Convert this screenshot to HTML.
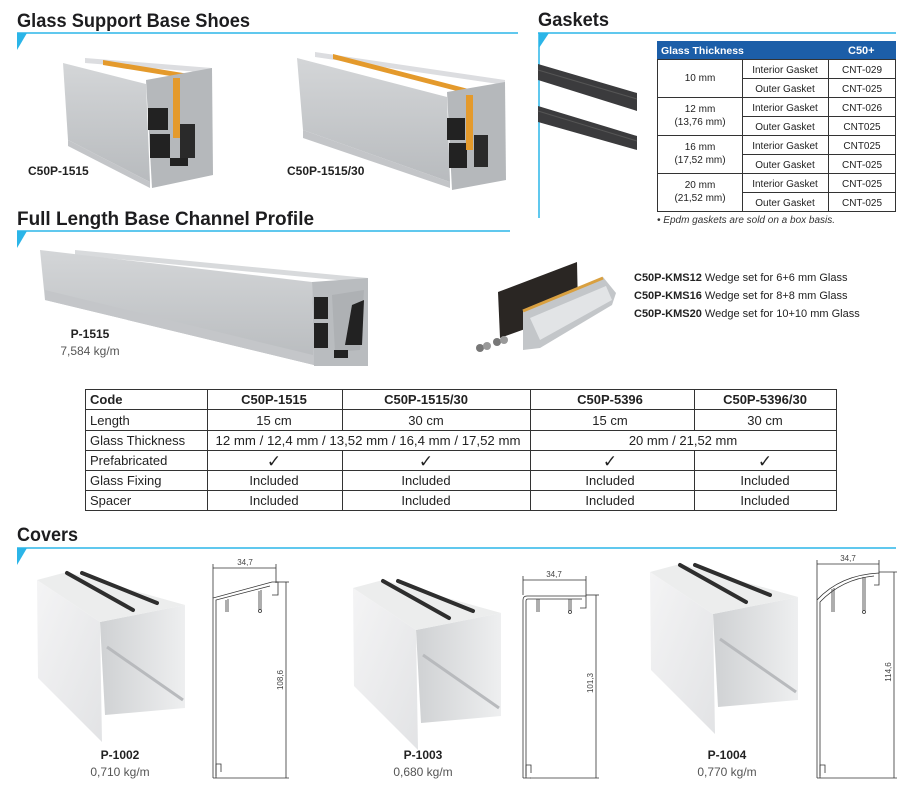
<!DOCTYPE html>
<html><head><meta charset="utf-8"><style>
html,body{margin:0;padding:0;background:#fff;}
svg{display:block;}
text{font-family:"Liberation Sans",sans-serif;}
</style></head><body>
<svg width="917" height="785" viewBox="0 0 917 785" xmlns="http://www.w3.org/2000/svg">
<defs>
<linearGradient id="alu" x1="0" y1="0" x2="0" y2="1"><stop offset="0" stop-color="#d4d6d8"/><stop offset="1" stop-color="#b8bbbe"/></linearGradient>
<linearGradient id="inner" x1="0" y1="0" x2="1" y2="0"><stop offset="0" stop-color="#cfd1d3"/><stop offset="1" stop-color="#eeeff0"/></linearGradient>
<linearGradient id="cov" x1="0" y1="0" x2="1" y2="1"><stop offset="0" stop-color="#f4f4f5"/><stop offset="1" stop-color="#e2e3e5"/></linearGradient>
</defs>

<!-- Section headers -->
<g fill="#1d1d1f" font-weight="bold" font-size="19">
<text x="17" y="27" textLength="233" lengthAdjust="spacingAndGlyphs">Glass Support Base Shoes</text>
<text x="538" y="26" textLength="71" lengthAdjust="spacingAndGlyphs">Gaskets</text>
<text x="17" y="225" textLength="297" lengthAdjust="spacingAndGlyphs">Full Length Base Channel Profile</text>
<text x="17" y="541" textLength="61" lengthAdjust="spacingAndGlyphs">Covers</text>
</g>
<g stroke="#2bb5e8" stroke-width="1.5">
<line x1="17" y1="33" x2="518" y2="33"/>
<line x1="538" y1="33" x2="896" y2="33"/>
<line x1="17" y1="231" x2="510" y2="231"/>
<line x1="17" y1="548" x2="896" y2="548"/>
<line x1="539" y1="33" x2="539" y2="218"/>
</g>
<g fill="#2bb5e8">
<polygon points="17,33 27,33 17,50"/>
<polygon points="539,33 549,33 539,48"/>
<polygon points="17,231 27,231 17,248"/>
<polygon points="17,548 27,548 17,565"/>
</g>

<!-- Shoe 1 -->
<g>
<polygon points="85,58 212,68 212,73 85,63" fill="#dcdde0"/>
<polygon points="103,60 195,75 195,80 103,65" fill="#e49a2c"/>
<polygon points="63,63 146,84 150,182 68,140" fill="url(#alu)"/>
<polygon points="68,140 150,182 150,188 68,146" fill="#c3c5c8"/>
<polygon points="146,80 212,68 213,175 152,188" fill="#b5b8bb"/>
<rect x="148" y="108" width="20" height="22" fill="#222"/>
<rect x="150" y="134" width="20" height="24" fill="#222"/>
<rect x="180" y="124" width="15" height="34" fill="#2a2a2a"/>
<rect x="173" y="78" width="7" height="60" fill="#e49a2c"/>
<rect x="170" y="158" width="18" height="8" fill="#222"/>
</g>
<text x="28" y="175" font-size="12" font-weight="bold" fill="#222">C50P-1515</text>
<!-- Shoe 2 -->
<g>
<polygon points="315,52 505,80 505,85 315,57" fill="#dcdde0"/>
<polygon points="333,54 480,92 480,97 333,59" fill="#e49a2c"/>
<polygon points="297,58 447,97 450,182 303,130" fill="url(#alu)"/>
<polygon points="303,130 450,182 450,188 303,138" fill="#c3c5c8"/>
<polygon points="447,92 505,82 506,180 452,190" fill="#b5b8bb"/>
<rect x="447" y="118" width="18" height="22" fill="#222"/>
<rect x="449" y="143" width="18" height="25" fill="#222"/>
<rect x="474" y="135" width="14" height="32" fill="#2a2a2a"/>
<rect x="466" y="95" width="7" height="55" fill="#e49a2c"/>
</g>
<text x="287" y="175" font-size="12" font-weight="bold" fill="#222">C50P-1515/30</text>

<!-- Gaskets -->
<polygon points="538,64 637,93 637,111 538,80" fill="#3b3b3d"/>
<line x1="538" y1="70" x2="637" y2="99" stroke="#555" stroke-width="1"/>
<polygon points="538,106 637,136 637,150 538,122" fill="#3b3b3d"/>
<line x1="538" y1="111" x2="637" y2="141" stroke="#555" stroke-width="1"/>

<!-- Gasket table -->
<rect x="657" y="41" width="239" height="18" fill="#1c5ea8"/>
<text x="661" y="54" font-size="10.5" font-weight="bold" fill="#fff">Glass Thickness</text>
<text x="848" y="54" font-size="11" font-weight="bold" fill="#fff">C50+</text>
<g stroke="#333" stroke-width="1" fill="none">
<rect x="657.5" y="59.5" width="238" height="152"/>
<line x1="742.5" y1="59" x2="742.5" y2="211"/>
<line x1="828.5" y1="59" x2="828.5" y2="211"/>
<line x1="657" y1="97.5" x2="896" y2="97.5"/>
<line x1="657" y1="135.5" x2="896" y2="135.5"/>
<line x1="657" y1="173.5" x2="896" y2="173.5"/>
<line x1="742" y1="78.5" x2="896" y2="78.5"/>
<line x1="742" y1="116.5" x2="896" y2="116.5"/>
<line x1="742" y1="154.5" x2="896" y2="154.5"/>
<line x1="742" y1="192.5" x2="896" y2="192.5"/>
</g>
<g font-size="10" fill="#222" text-anchor="middle">
<text x="700" y="81">10 mm</text>
<text x="700" y="112">12 mm</text><text x="700" y="125">(13,76 mm)</text>
<text x="700" y="150">16 mm</text><text x="700" y="163">(17,52 mm)</text>
<text x="700" y="188">20 mm</text><text x="700" y="201">(21,52 mm)</text>
<text x="785" y="73">Interior Gasket</text><text x="862" y="73">CNT-029</text>
<text x="785" y="92">Outer Gasket</text><text x="862" y="92">CNT-025</text>
<text x="785" y="111">Interior Gasket</text><text x="862" y="111">CNT-026</text>
<text x="785" y="130">Outer Gasket</text><text x="862" y="130">CNT025</text>
<text x="785" y="149">Interior Gasket</text><text x="862" y="149">CNT025</text>
<text x="785" y="168">Outer Gasket</text><text x="862" y="168">CNT-025</text>
<text x="785" y="187">Interior Gasket</text><text x="862" y="187">CNT-025</text>
<text x="785" y="206">Outer Gasket</text><text x="862" y="206">CNT-025</text>
</g>
<text x="657" y="223" font-size="10" font-style="italic" fill="#333">• Epdm gaskets are sold on a box basis.</text>

<!-- Full length profile -->
<polygon points="75,250 368,278 368,283 75,255" fill="#d8dadc"/>
<polygon points="40,250 312,282 314,365 45,300" fill="url(#alu)"/>
<polygon points="45,290 313,355 314,365 45,300" fill="#c4c6c9"/>
<polygon points="312,282 368,278 368,366 314,366" fill="#b9bcbf"/>
<rect x="314" y="297" width="14" height="22" fill="#222"/>
<rect x="314" y="323" width="14" height="25" fill="#222"/>
<polygon points="332,295 364,290 360,350 335,352" fill="#aeb1b4"/>
<polygon points="352,305 364,300 362,345 345,345" fill="#222"/>
<rect x="334" y="350" width="14" height="8" fill="#222"/>
<text x="90" y="338" font-size="12" font-weight="bold" fill="#222" text-anchor="middle">P-1515</text>
<text x="90" y="355" font-size="12" fill="#555" text-anchor="middle">7,584 kg/m</text>

<!-- Wedge set -->
<polygon points="498,292 577,262 578,310 500,338" fill="#2a2623"/>
<polygon points="523,310 603,277 616,293 612,305 540,348 523,350" fill="#c3c6c9"/>
<polygon points="530,318 606,286 612,300 540,340" fill="#e2e4e6"/>
<line x1="523" y1="311" x2="603" y2="278" stroke="#d9a040" stroke-width="3"/>
<circle cx="480" cy="348" r="4" fill="#777"/><circle cx="487" cy="346" r="4" fill="#999"/>
<circle cx="497" cy="342" r="4" fill="#777"/><circle cx="504" cy="340" r="4" fill="#999"/>
<g font-size="11" fill="#222">
<text x="634" y="281"><tspan font-weight="bold">C50P-KMS12</tspan> Wedge set for 6+6 mm Glass</text>
<text x="634" y="299"><tspan font-weight="bold">C50P-KMS16</tspan> Wedge set for 8+8 mm Glass</text>
<text x="634" y="317"><tspan font-weight="bold">C50P-KMS20</tspan> Wedge set for 10+10 mm Glass</text>
</g>

<!-- Main table -->
<g stroke="#333" stroke-width="1" fill="none">
<rect x="85.5" y="389.5" width="751" height="121"/>
<line x1="85" y1="409.5" x2="837" y2="409.5"/>
<line x1="85" y1="430.5" x2="837" y2="430.5"/>
<line x1="85" y1="450.5" x2="837" y2="450.5"/>
<line x1="85" y1="470.5" x2="837" y2="470.5"/>
<line x1="85" y1="490.5" x2="837" y2="490.5"/>
<line x1="207.5" y1="389" x2="207.5" y2="511"/>
<line x1="530.5" y1="389" x2="530.5" y2="511"/>
<line x1="342.5" y1="389" x2="342.5" y2="430"/>
<line x1="694.5" y1="389" x2="694.5" y2="430"/>
<line x1="342.5" y1="450" x2="342.5" y2="511"/>
<line x1="694.5" y1="450" x2="694.5" y2="511"/>
</g>
<g font-size="13" fill="#222">
<text x="90" y="404" font-weight="bold">Code</text>
<text x="90" y="425">Length</text>
<text x="90" y="445">Glass Thickness</text>
<text x="90" y="465">Prefabricated</text>
<text x="90" y="485">Glass Fixing</text>
<text x="90" y="505">Spacer</text>
</g>
<g font-size="13" fill="#222" text-anchor="middle">
<text x="274" y="404" font-weight="bold">C50P-1515</text>
<text x="426" y="404" font-weight="bold">C50P-1515/30</text>
<text x="610" y="404" font-weight="bold">C50P-5396</text>
<text x="765" y="404" font-weight="bold">C50P-5396/30</text>
<text x="274" y="425">15 cm</text><text x="426" y="425">30 cm</text>
<text x="610" y="425">15 cm</text><text x="765" y="425">30 cm</text>
<text x="368" y="445" textLength="305" lengthAdjust="spacingAndGlyphs">12 mm / 12,4 mm / 13,52 mm / 16,4 mm / 17,52 mm</text>
<text x="683" y="445">20 mm / 21,52 mm</text>
<text x="274" y="467" font-size="17">✓</text><text x="426" y="467" font-size="17">✓</text>
<text x="610" y="467" font-size="17">✓</text><text x="765" y="467" font-size="17">✓</text>
<text x="274" y="485">Included</text><text x="426" y="485">Included</text>
<text x="610" y="485">Included</text><text x="765" y="485">Included</text>
<text x="274" y="505">Included</text><text x="426" y="505">Included</text>
<text x="610" y="505">Included</text><text x="765" y="505">Included</text>
</g>

<!-- Cover images -->
<g id="cv1">
<polygon points="100,622 185,605 185,708 105,715" fill="url(#inner)"/>
<line x1="107" y1="647" x2="183" y2="700" stroke="#b8babd" stroke-width="3"/>
<polygon points="37,580 67,572 185,605 100,622" fill="#eceded"/>
<polygon points="37,580 100,622 102,742 38,678" fill="url(#cov)"/>
<line x1="67" y1="573" x2="133" y2="610" stroke="#2e2e2e" stroke-width="4" stroke-linecap="round"/>
<line x1="82" y1="573" x2="157" y2="603" stroke="#2e2e2e" stroke-width="4" stroke-linecap="round"/>
</g>
<use href="#cv1" transform="translate(316,8)"/>
<use href="#cv1" transform="translate(613,-8)"/>
<g font-size="12" text-anchor="middle">
<text x="120" y="759" font-weight="bold" fill="#222">P-1002</text>
<text x="120" y="776" fill="#555">0,710 kg/m</text>
<text x="423" y="759" font-weight="bold" fill="#222">P-1003</text>
<text x="423" y="776" fill="#555">0,680 kg/m</text>
<text x="727" y="759" font-weight="bold" fill="#222">P-1004</text>
<text x="727" y="776" fill="#555">0,770 kg/m</text>
</g>

<!-- Cover drawings -->
<g stroke="#333" stroke-width="0.8" fill="none">
<!-- P-1002 -->
<line x1="213" y1="568" x2="276" y2="568"/><line x1="213" y1="564" x2="213" y2="598"/><line x1="276" y1="564" x2="276" y2="583"/>
<line x1="286" y1="582" x2="286" y2="778"/><line x1="276" y1="582" x2="289" y2="582"/><line x1="222" y1="778" x2="289" y2="778"/>
<path d="M213,778 L213,598 L272,582 L278,582 L278,595 L272,595 M216,778 L216,600 L270,586"/>
<path d="M226,600 L226,612 M228,599 L228,612 M259,591 L259,610 M261,590 L261,610"/>
<circle cx="260" cy="611" r="1.5"/>
<path d="M216,776 L216,764 L221,764 L221,772 M213,778 L222,778"/>
<!-- P-1003 -->
<line x1="523" y1="580" x2="586" y2="580"/><line x1="523" y1="576" x2="523" y2="595"/><line x1="586" y1="576" x2="586" y2="596"/>
<line x1="596" y1="595" x2="596" y2="778"/><line x1="586" y1="595" x2="599" y2="595"/><line x1="530" y1="778" x2="599" y2="778"/>
<path d="M523,778 L523,600 Q523,596 527,596 L586,596 L586,608 L580,608 M526,778 L526,601 Q526,599 528,599 L582,599"/>
<path d="M537,599 L537,612 M539,599 L539,612 M569,599 L569,611 M571,599 L571,611"/>
<circle cx="570" cy="612" r="1.5"/>
<path d="M526,776 L526,765 L531,765 L531,773 M523,778 L531,778"/>
<!-- P-1004 -->
<line x1="817" y1="564" x2="879" y2="564"/><line x1="817" y1="560" x2="817" y2="600"/><line x1="879" y1="560" x2="879" y2="573"/>
<line x1="894" y1="572" x2="894" y2="778"/><line x1="879" y1="572" x2="897" y2="572"/><line x1="825" y1="778" x2="897" y2="778"/>
<path d="M817,778 L817,600 Q840,575 879,573 L879,585 L874,585 M820,778 L820,602 Q842,579 874,576"/>
<path d="M832,589 L832,612 M834,588 L834,612 M863,577 L863,611 M865,577 L865,611"/>
<circle cx="864" cy="612" r="1.5"/>
<path d="M820,776 L820,765 L825,765 L825,773 M817,778 L825,778"/>
</g>
<g font-size="8" fill="#444" text-anchor="middle">
<text x="245" y="565">34,7</text>
<text x="554" y="577">34,7</text>
<text x="848" y="561">34,7</text>
<text transform="translate(283,680) rotate(-90)">108,6</text>
<text transform="translate(593,683) rotate(-90)">101,3</text>
<text transform="translate(891,672) rotate(-90)">114,6</text>
</g>
</svg>
</body></html>
